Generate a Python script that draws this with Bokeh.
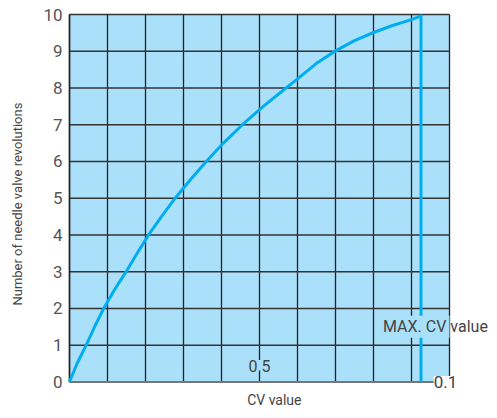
import math
from bokeh.plotting import figure
from bokeh.models import Label
from bokeh.core.properties import value
from bokeh.embed import file_html
from bokeh.resources import INLINE

# Data
cv = [0.0, 0.02, 0.044, 0.066, 0.09, 0.118, 0.149, 0.178, 0.208, 0.242, 0.278,
      0.318, 0.36, 0.405, 0.455, 0.51, 0.57, 0.6, 0.65, 0.7, 0.75, 0.8, 0.85, 0.9, 0.925]
rev = [0.0, 0.5, 1.0, 1.5, 2.0, 2.5, 3.0, 3.5, 4.0, 4.5, 5.0,
       5.5, 6.0, 6.5, 7.0, 7.5, 8.0, 8.25, 8.67, 9.01, 9.29, 9.51, 9.7, 9.86, 9.96]
max_cv = 0.925
y_ticks = [0, 1, 2, 3, 4, 5, 6, 7, 8, 9, 10]
y_tick_labels = ["0", "1", "2", "3", "4", "5", "6", "7", "8", "9", "10"]
x_grid = [0.0, 0.1, 0.2, 0.3, 0.4, 0.5, 0.6, 0.7, 0.8, 0.9, 1.0]
x_min, x_max = 0.0, 1.0
y_min, y_max = 0, 10

BG = "#abe0fa"
BLUE = "#00aeef"
TXT = "#444444"
FONT = "Roboto"

W, H = 488, 409
LEFT, TOP = 69, 14
px_x = 380.0
px_y = 36.74
x0 = -LEFT / px_x
x1 = (W - LEFT) / px_x
y1 = 10 + TOP / px_y
y0 = y1 - H / px_y

p = figure(width=W, height=H, x_range=(x0, x1), y_range=(y0, y1),
           output_backend="svg", toolbar_location=None,
           x_axis_location=None, y_axis_location=None, min_border=0)
p.background_fill_color = "white"
p.border_fill_color = "white"
p.outline_line_color = None
p.grid.visible = False

# plot area background
p.quad(left=[x_min], right=[x_max], bottom=[y_min], top=[y_max],
       fill_color=BG, line_color=None)

# grid lines
p.segment(x0=x_grid, x1=x_grid, y0=[y_min] * len(x_grid), y1=[y_max] * len(x_grid),
          line_color="#222222", line_width=1.3)
p.segment(x0=[x_min] * len(y_ticks), x1=[x_max] * len(y_ticks), y0=y_ticks, y1=y_ticks,
          line_color="#333333", line_width=1.5)
# axis lines
p.segment(x0=[x_min], x1=[x_min], y0=[y_min], y1=[y_max],
          line_color="#222222", line_width=1.5)
p.segment(x0=[x_min], x1=[x_max], y0=[y_min], y1=[y_min],
          line_color="#777777", line_width=2)

# curve and max line
p.line(cv, rev, line_color=BLUE, line_width=3, line_join="round")
p.segment(x0=[max_cv], x1=[max_cv], y0=[y_min], y1=[y_max], line_color=BLUE, line_width=3)

# y tick labels
p.text(x=[x_min] * len(y_ticks), y=y_ticks, text=y_tick_labels, x_offset=-7,
       text_align="right", text_baseline="middle", text_font=value(FONT),
       text_font_size="17px", text_color="#555555")

# label background (clipped to the plot area like the reference)
p.quad(left=[0.822], right=[x_max], bottom=[1.2], top=[1.8],
       fill_color=BG, line_color=None)

# labels
p.add_layout(Label(x=0.5, y=0.43, text="0.5", text_align="center",
                   text_baseline="middle", text_font=FONT,
                   text_font_size="16px", text_color=TXT,
                   background_fill_color=BG))
p.add_layout(Label(x=1.0, y=0, x_offset=-4, text="0.1", text_align="center",
                   text_baseline="middle", text_font=FONT,
                   text_font_size="17px", text_color=TXT,
                   background_fill_color="white"))
p.add_layout(Label(x=0.825, y=1.5, text="MAX. CV value", text_align="left",
                   text_baseline="middle", text_font=FONT,
                   text_font_size="16px", text_color=TXT))
p.add_layout(Label(x=0.539, y=-0.5, text="CV value", text_align="center",
                   text_baseline="middle", text_font=FONT,
                   text_font_size="14px", text_color=TXT))
p.add_layout(Label(x=-0.137, y=4.84, text="Number of needle valve revolutions",
                   angle=math.pi / 2, text_align="center",
                   text_baseline="middle", text_font=FONT,
                   text_font_size="13px", text_color=TXT))

open("out.html", "w").write(file_html(p, INLINE))
